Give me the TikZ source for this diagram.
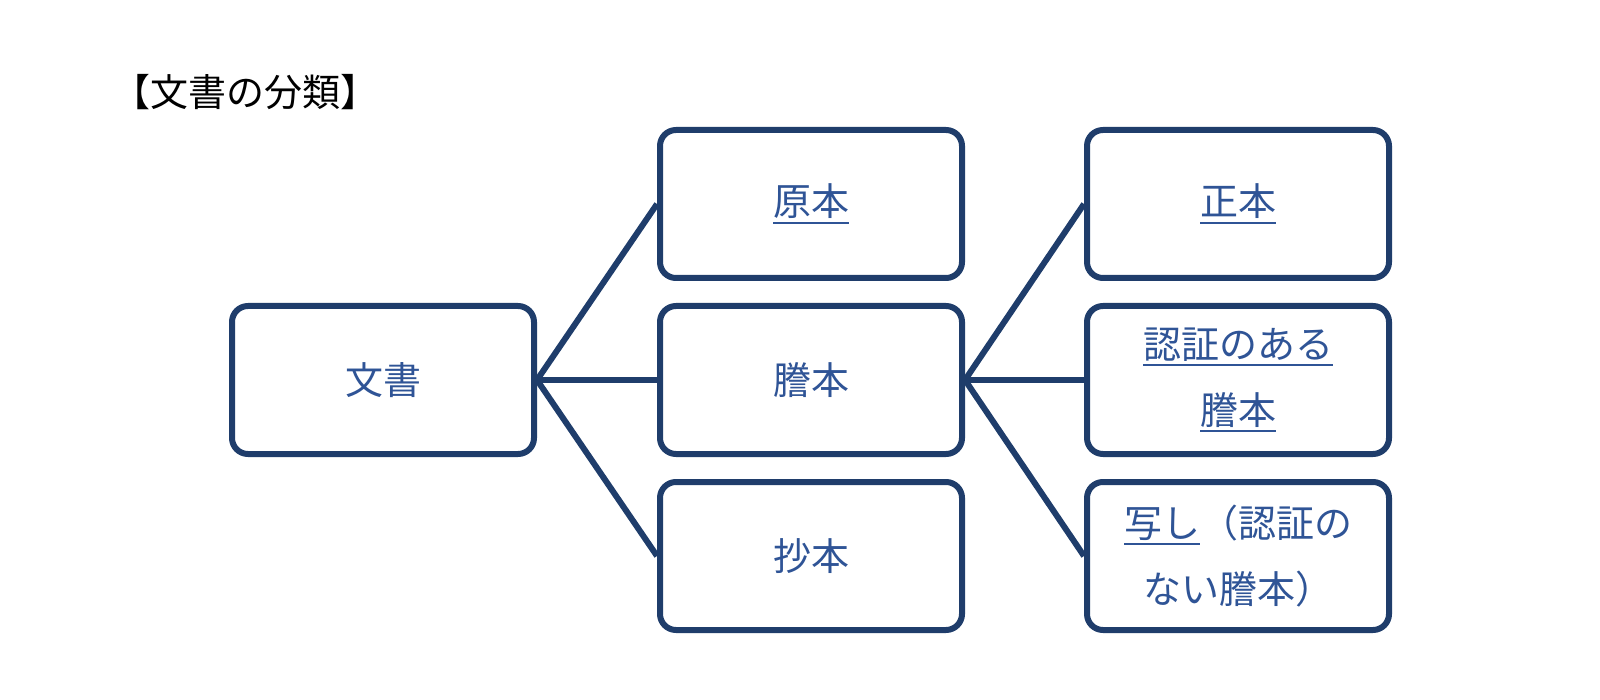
\documentclass[tikz,border=0pt]{standalone}
\usepackage{fontspec}
\setmainfont{Noto Sans CJK JP}
\usepackage{tikz}

\definecolor{boxline}{RGB}{31,61,107}
\definecolor{boxtext}{RGB}{47,84,150}

% underline for the boxed words
\newcommand{\ulin}[1]{\setbox0\hbox{#1}\dimen0=\wd0\rlap{\box0}\rule[-8pt]{\dimen0}{2pt}}

\begin{document}
\begin{tikzpicture}[x=1pt, y=-1pt,
		every text node part/.style={align=center},
		block/.style={rectangle, inner sep=0pt, minimum width=302pt, minimum height=148pt, rounded corners=16pt, draw=boxline, line width=6pt, text=boxtext, font=\fontsize{38}{66}\selectfont},
		str/.style={rectangle, inner sep=0pt, font=\fontsize{38}{42}\selectfont},
		link/.style={draw=boxline, line width=6pt}]
		
		\useasboundingbox (0, 0) rectangle (1600, 700);
		
		\node[str, anchor=west] (title) at (112, 92) {【文書の分類】};
		
		\node[block] (doc) at (383, 380) {文書};
		
		\node[block] (orig) at (811, 204) {\ulin{原本}};
		\node[block] (copy) at (811, 380) {謄本};
		\node[block] (extract) at (811, 556) {抄本};
		
		\draw (doc.east) edge[link] (orig.west);
		\draw (doc.east) edge[link] (copy.west);
		\draw (doc.east) edge[link] (extract.west);
		
		\node[block] (official) at (1238, 204) {\ulin{正本}};
		\node[block] (certified) at (1238, 380) {\ulin{認証のある}\\\ulin{謄本}};
		\node[block] (plain) at (1238, 556) {\ulin{写し}（認証の\\ない謄本）};
		
		\draw (copy.east) edge[link] (official.west);
		\draw (copy.east) edge[link] (certified.west);
		\draw (copy.east) edge[link] (plain.west);
		
	\end{tikzpicture}
\end{document}
